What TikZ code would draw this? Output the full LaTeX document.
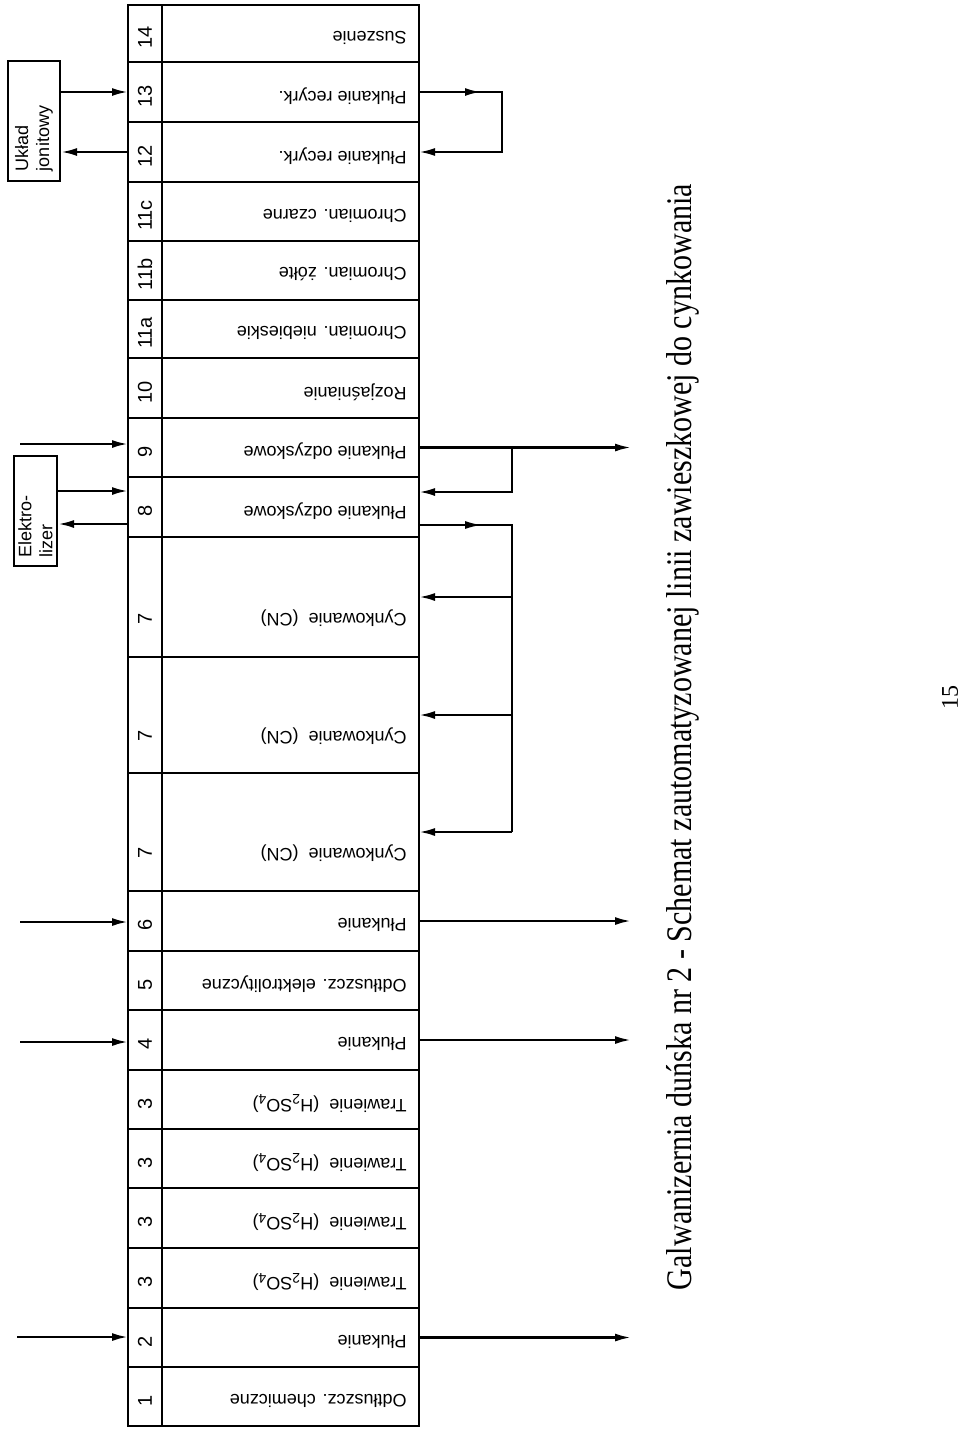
\documentclass[tikz,border=0pt]{standalone}
\usepackage{fontspec}
\usepackage{graphicx}
\setmainfont{Liberation Sans}
\newfontfamily\capfont{Liberation Serif}
\newcommand\sbs[1]{\raisebox{-0.45ex}{\fontsize{7}{8}\selectfont#1}}
\usetikzlibrary{arrows.meta,calc,decorations.markings}

\begin{document}
\begin{tikzpicture}[x=0.5pt,y=-0.5pt,
	cell/.style={draw, line width=1pt, rectangle, inner sep=0pt, outer sep=0pt, anchor=north west},
	num/.style={rotate=90, font=\fontsize{10}{12}\selectfont, inner sep=0pt},
	lbl/.style={rotate=180, anchor=west, font=\fontsize{9}{11}\selectfont, inner sep=0pt},
	unitbox/.style={draw, line width=1pt, rotate=90, align=left, font=\fontsize{9}{10.5}\selectfont, inner ysep=0pt},
	arr/.style={-{Latex[length=8pt,width=4pt]}, line width=1.2pt},
	thin/.style={line width=0.7pt},
	midarr/.style={postaction={decorate}, decoration={markings, mark=at position #1 with {\arrow{Latex[length=8pt,width=4pt]}}}}]
	\useasboundingbox (0,0) rectangle (960,1430);

	\foreach \k/\nr/\lab/\ya/\yb in {
		1/14/Suszenie/5/62,
		2/13/Płukanie recyrk./62/122,
		3/12/Płukanie recyrk./122/182,
		4/11c/Chromian. czarne/182/241,
		5/11b/Chromian. żółte/241/300,
		6/11a/Chromian. niebieskie/300/358,
		7/10/Rozjaśnianie/358/418,
		8/9/Płukanie odzyskowe/418/477,
		9/8/Płukanie odzyskowe/477/537,
		10/7/Cynkowanie\ \ (CN)/537/657,
		11/7/Cynkowanie\ \ (CN)/657/773,
		12/7/Cynkowanie\ \ (CN)/773/891,
		13/6/Płukanie/891/951,
		14/5/Odtłuszcz. elektrolityczne/951/1010,
		15/4/Płukanie/1010/1070,
		16/3/Trawienie\ \ (H\sbs{2}SO\sbs{4})/1070/1129,
		17/3/Trawienie\ \ (H\sbs{2}SO\sbs{4})/1129/1188,
		18/3/Trawienie\ \ (H\sbs{2}SO\sbs{4})/1188/1248,
		19/3/Trawienie\ \ (H\sbs{2}SO\sbs{4})/1248/1308,
		20/2/Płukanie/1308/1367,
		21/1/Odtłuszcz. chemiczne/1367/1426}
	{
		\pgfmathsetmacro\hh{(\yb-\ya)/2}
		\pgfmathsetmacro\ty{\yb-\ya>80 ? \ya+0.68*(\yb-\ya) : (\ya+\yb)/2+4}
		\node[cell, minimum width=17pt, minimum height=\hh pt] (n\k) at (128,\ya) {};
		\node[cell, minimum width=128.5pt, minimum height=\hh pt] (l\k) at (162,\ya) {};
		\node[num] (c\k) at (145,\ty) {\nr};
		\node[lbl] (t\k) at (407,\ty) {\lab};
	}

	\node[unitbox, minimum height=26pt, text width=50pt, inner xsep=5pt] (jon) at (34,121) {Układ\\jonitowy};
	\node[unitbox, minimum height=21.5pt, text width=47pt, inner xsep=4pt] (elek) at (35.5,510.5) {Elektro-\\lizer};

	\coordinate (i9) at (20,444);
	\coordinate (i6) at (20,922);
	\coordinate (i4) at (20,1042);
	\coordinate (i2) at (17,1337);
	\coordinate (rx) at (631,0);
	\coordinate (lp) at (502,0);
	\coordinate (bx) at (512,0);

	\draw[arr] (jon.south |- n2.west) -- (n2.west);
	\draw[arr] (n3.west) -- (jon.south |- n3.west);
	\draw[arr] ($(elek.south |- n9.west)+(0,-16)$) -- ($(n9.west)+(0,-16)$);
	\draw[arr] ($(n9.west)+(0,17)$) -- ($(elek.south |- n9.west)+(0,17)$);
	\draw[arr] (i9) -- (i9 -| n8.west);
	\draw[arr] (i6) -- (i6 -| n13.west);
	\draw[arr] (i4) -- (i4 -| n15.west);
	\draw[arr] (i2) -- (i2 -| n20.west);

	\draw[thin, arr, midarr=31pt] (l2.east) -- (l2.east -| lp) -- (l3.east -| lp) -- (l3.east);
	\draw[arr] (l8.east) -- (l8.east -| rx);
	\draw[thin, arr] (l8.east -| bx) -- ($(l9.east -| bx)+(0,-15)$) -- ($(l9.east)+(0,-15)$);
	\draw[thin, midarr=31pt] ($(l9.east)+(0,18)$) -- ($(l9.east -| bx)+(0,18)$) -- (l12.east -| bx);
	\foreach \k in {10,11,12}
		\draw[thin, arr] (l\k.east -| bx) -- (l\k.east);
	\foreach \k in {13,15,20}
		\draw[arr] (l\k.east) -- (l\k.east -| rx);

	\node[rotate=90, font=\capfont\fontsize{18}{20}\selectfont] (cap) at (683,737) {\resizebox{553pt}{\height}{Galwanizernia duńska nr 2 - Schemat zautomatyzowanej linii zawieszkowej do cynkowania}};
	\node[rotate=90, font=\capfont\fontsize{12}{14}\selectfont] (pg) at (950,697) {15};
\end{tikzpicture}
\end{document}
